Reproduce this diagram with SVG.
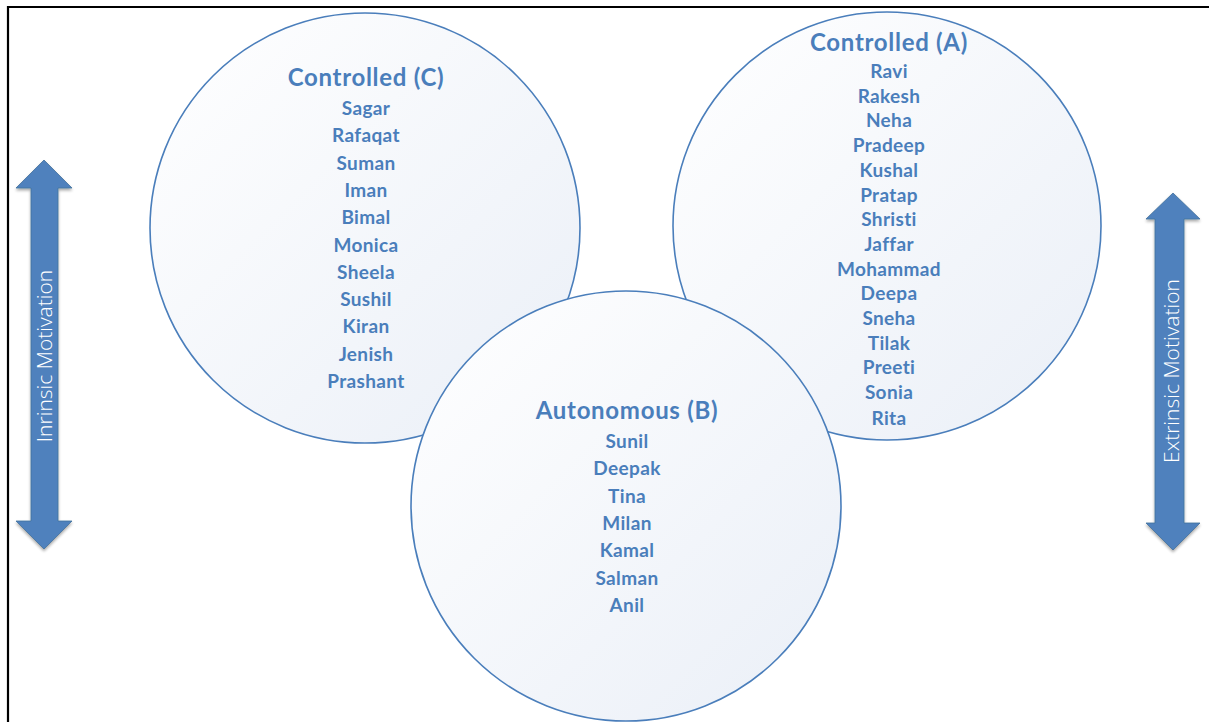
<svg xmlns="http://www.w3.org/2000/svg" width="1209" height="722" viewBox="0 0 1209 722">
  <defs>
    <linearGradient id="bubbleFill" x1="0" y1="0" x2="1" y2="1">
      <stop offset="0" stop-color="#ffffff"/>
      <stop offset="1" stop-color="#eaeff7"/>
    </linearGradient>
    <filter id="softShadow" x="-30%" y="-10%" width="160%" height="120%">
      <feGaussianBlur in="SourceAlpha" stdDeviation="1.5"/>
      <feOffset dx="0" dy="1.5"/>
      <feComponentTransfer><feFuncA type="linear" slope="0.35"/></feComponentTransfer>
      <feMerge><feMergeNode/><feMergeNode in="SourceGraphic"/></feMerge>
    </filter>
  </defs>
  <style>
    .bubble { fill: url(#bubbleFill); stroke: #4a7ebb; stroke-width: 1.6; }
    .title { font-family: Lato, "Open Sans", sans-serif; font-weight: bold; font-size: 24px; letter-spacing: 0.7px; fill: #4a7ebb; text-anchor: middle; }
    .name { font-family: Lato, "Open Sans", sans-serif; font-weight: bold; font-size: 19px; letter-spacing: 0.35px; fill: #4a7ebb; text-anchor: middle; }
    .axis { fill: #4f81bd; stroke: #41719c; stroke-width: 0.8; filter: url(#softShadow); }
    .axis-label { font-family: "Open Sans", Lato, sans-serif; font-weight: 300; font-size: 21px; fill: #ffffff; text-anchor: middle; }
  </style>

  <rect width="1209" height="722" fill="#ffffff"/>

  <!-- frame: top and left edges -->
  <path d="M8 722 V7 H1209" fill="none" stroke="#000000" stroke-width="2.2"/>

  <!-- left axis arrow -->
  <g id="intrinsic-axis">
    <polygon class="axis" points="44,160 72,188 58,188 58,521 72,521 44,549 16,521 31,521 31,188 16,188"/>
    <text class="axis-label" transform="translate(52 356) rotate(-90)">Inrinsic Motivation</text>
  </g>

  <!-- right axis arrow -->
  <g id="extrinsic-axis">
    <polygon class="axis" points="1173,193 1200,219 1184,219 1184,523 1200,523 1173,550 1146,523 1155,523 1155,219 1146,219"/>
    <text class="axis-label" transform="translate(1179 371) rotate(-90)">Extrinsic Motivation</text>
  </g>

  <g id="controlled-c">
    <circle class="bubble" cx="365" cy="228" r="215"/>
    <text class="title" x="366" y="86">Controlled (C)</text>
    <text class="name" x="366" y="115">Sagar</text>
    <text class="name" x="366" y="142.3">Rafaqat</text>
    <text class="name" x="366" y="169.6">Suman</text>
    <text class="name" x="366" y="196.9">Iman</text>
    <text class="name" x="366" y="224.2">Bimal</text>
    <text class="name" x="366" y="251.5">Monica</text>
    <text class="name" x="366" y="278.8">Sheela</text>
    <text class="name" x="366" y="306.1">Sushil</text>
    <text class="name" x="366" y="333.4">Kiran</text>
    <text class="name" x="366" y="360.7">Jenish</text>
    <text class="name" x="366" y="388">Prashant</text>
  </g>

  <g id="controlled-a">
    <circle class="bubble" cx="887" cy="226" r="214"/>
    <text class="title" x="889" y="51">Controlled (A)</text>
    <text class="name" x="889" y="78">Ravi</text>
    <text class="name" x="889" y="102.7">Rakesh</text>
    <text class="name" x="889" y="127.4">Neha</text>
    <text class="name" x="889" y="152.1">Pradeep</text>
    <text class="name" x="889" y="176.8">Kushal</text>
    <text class="name" x="889" y="201.5">Pratap</text>
    <text class="name" x="889" y="226.2">Shristi</text>
    <text class="name" x="889" y="250.9">Jaffar</text>
    <text class="name" x="889" y="275.6">Mohammad</text>
    <text class="name" x="889" y="300.3">Deepa</text>
    <text class="name" x="889" y="325">Sneha</text>
    <text class="name" x="889" y="349.7">Tilak</text>
    <text class="name" x="889" y="374.4">Preeti</text>
    <text class="name" x="889" y="399.1">Sonia</text>
    <text class="name" x="889" y="425">Rita</text>
  </g>

  <g id="autonomous-b">
    <circle class="bubble" cx="626" cy="506" r="215"/>
    <text class="title" x="627" y="419">Autonomous (B)</text>
    <text class="name" x="627" y="448">Sunil</text>
    <text class="name" x="627" y="475.3">Deepak</text>
    <text class="name" x="627" y="502.6">Tina</text>
    <text class="name" x="627" y="529.9">Milan</text>
    <text class="name" x="627" y="557.2">Kamal</text>
    <text class="name" x="627" y="584.5">Salman</text>
    <text class="name" x="627" y="611.8">Anil</text>
  </g>

  <!-- no connectors in this figure -->
  <g id="connectors"/>
</svg>
